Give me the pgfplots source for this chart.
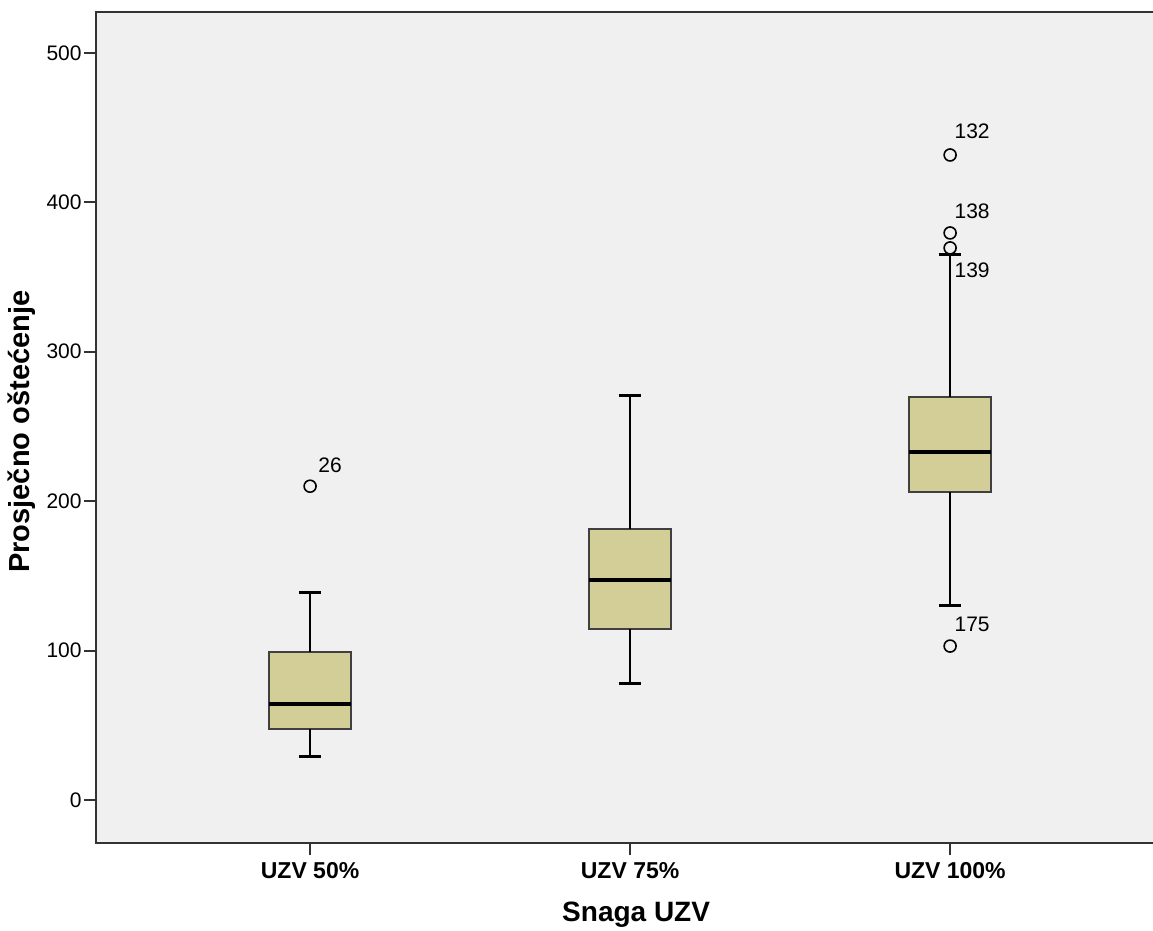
\documentclass[border=0pt]{standalone}
\usepackage{pgfplots}
\pgfplotsset{compat=1.18}
\usepackage{fontspec}
\setmainfont{Liberation Sans}
\definecolor{boxfill}{RGB}{211,206,151}
\definecolor{bg}{RGB}{240,240,240}
\begin{document}
\begin{tikzpicture}
\useasboundingbox (-48pt,-44pt) rectangle (528.5pt,421.5pt);
\begin{axis}[
  scale only axis, width=528.5pt, height=415.5pt,
  xmin=0.331, xmax=3.634, ymin=-28.8, ymax=527.4,
  axis background/.style={fill=bg},
  axis line style={draw=none},
  tick style={draw=black!80, line width=1pt},
  tick align=outside, major tick length=6pt,
  xtick pos=left, ytick pos=left,
  xtick={1,2,3}, xticklabels={UZV 50\%, UZV 75\%, UZV 100\%},
  x tick label style={font=\fontsize{11.5}{13}\selectfont\bfseries},
  ytick={0,100,200,300,400,500},
  y tick label style={font=\fontsize{10.5}{12}\selectfont, inner sep=1pt},
  /pgf/number format/assume math mode=true,
  ylabel={Prosječno oštećenje},
  xlabel={Snaga UZV},
  every axis y label/.style={at={(rel axis cs:0,0.495)}, xshift=-37pt, rotate=90, anchor=center, font=\fontsize{14.5}{16}\selectfont\bfseries},
  every axis x label/.style={at={(rel axis cs:0.511,0)}, yshift=-36pt, anchor=center, font=\fontsize{14}{16}\selectfont\bfseries},
  clip=false,
]
% boxes (Q1..Q3)
\addplot[fill=boxfill, draw=black!75, line width=1pt] coordinates {(0.872,47.5) (1.128,47.5) (1.128,99) (0.872,99)} -- cycle;
\addplot[fill=boxfill, draw=black!75, line width=1pt] coordinates {(1.872,114.5) (2.128,114.5) (2.128,181.5) (1.872,181.5)} -- cycle;
\addplot[fill=boxfill, draw=black!75, line width=1pt] coordinates {(2.872,206) (3.128,206) (3.128,270) (2.872,270)} -- cycle;
% medians
\addplot[draw=black, line width=2pt] coordinates {(0.872,64) (1.128,64)};
\addplot[draw=black, line width=2pt] coordinates {(1.872,147.5) (2.128,147.5)};
\addplot[draw=black, line width=2pt] coordinates {(2.872,233) (3.128,233)};
% whiskers
\addplot[draw=black, line width=1.1pt] coordinates {(1,99) (1,139)};
\addplot[draw=black, line width=1.1pt] coordinates {(1,47.5) (1,29)};
\addplot[draw=black, line width=1.1pt] coordinates {(2,181.5) (2,270.5)};
\addplot[draw=black, line width=1.1pt] coordinates {(2,114.5) (2,78)};
\addplot[draw=black, line width=1.1pt] coordinates {(3,270) (3,365)};
\addplot[draw=black, line width=1.1pt] coordinates {(3,206) (3,130)};
% caps
\addplot[draw=black, line width=1.6pt] coordinates {(0.965,139) (1.035,139)};
\addplot[draw=black, line width=1.6pt] coordinates {(0.965,29) (1.035,29)};
\addplot[draw=black, line width=1.6pt] coordinates {(1.965,270.5) (2.035,270.5)};
\addplot[draw=black, line width=1.6pt] coordinates {(1.965,78) (2.035,78)};
\addplot[draw=black, line width=1.6pt] coordinates {(2.965,365) (3.035,365)};
\addplot[draw=black, line width=1.6pt] coordinates {(2.965,130) (3.035,130)};
% outliers
\addplot[only marks, mark=o, mark size=3pt, mark options={draw=black, line width=0.8pt, fill=none}]
  coordinates {(1,210) (3,431.7) (3,379.5) (3,369.5) (3,103)};
\begin{scope}[every node/.style={font=\fontsize{10.5}{12}\selectfont, inner sep=0pt}]
\node at (axis cs:1,210) [xshift=10pt, yshift=10.5pt] {26};
\node at (axis cs:3,431.7) [xshift=11pt, yshift=12pt] {132};
\node at (axis cs:3,379.5) [xshift=11pt, yshift=11pt] {138};
\node at (axis cs:3,369.5) [xshift=11pt, yshift=-11pt] {139};
\node at (axis cs:3,103) [xshift=11pt, yshift=11pt] {175};
\end{scope}
\draw[black!80, line width=1pt] (rel axis cs:1,1) -- (rel axis cs:0,1) -- (rel axis cs:0,0) -- (rel axis cs:1,0);
\end{axis}
\end{tikzpicture}
\end{document}
